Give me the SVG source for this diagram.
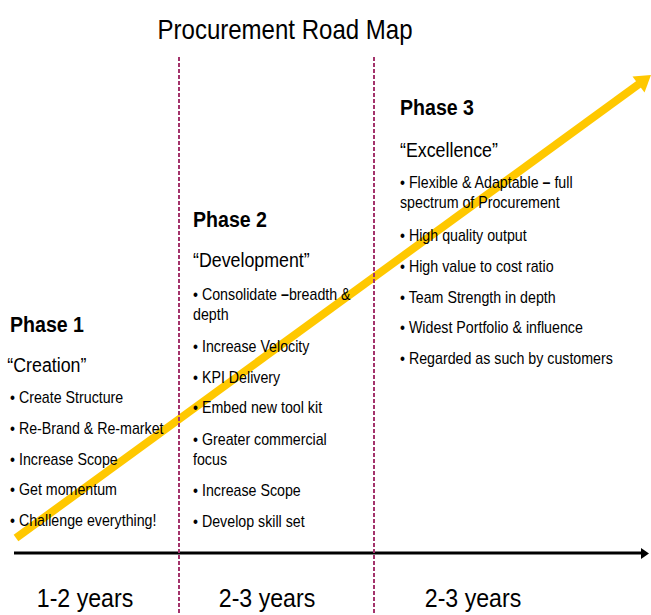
<svg xmlns="http://www.w3.org/2000/svg" width="651" height="615" viewBox="0 0 651 615">
  <style>
    text { font-family: "Liberation Sans", Arial, sans-serif; fill: #000; }
    .title { font-size: 27px; }
    .phase { font-size: 22px; font-weight: bold; }
    .quote { font-size: 20px; }
    .item { font-size: 16px; }
    .dash { font-weight: bold; }
    .years { font-size: 26px; }
    .divider { stroke: #A3336B; stroke-width: 2; stroke-dasharray: 4 2; fill: none; }
    .axis { stroke: #000; stroke-width: 3; fill: none; }
    .growth { stroke: #FFC800; stroke-width: 8; fill: none; }
  </style>

  <!-- Title -->
  <g id="title" transform="translate(285,39) scale(0.89,1)">
    <text class="title" x="0" y="0" text-anchor="middle">Procurement Road Map</text>
  </g>

  <!-- Connectors: time axis, growth arrow, phase dividers -->
  <g id="connectors">
    <line class="axis" x1="14" y1="553" x2="642" y2="553"/>
    <polygon points="641,548 649,553.5 641,559" fill="#000"/>
    <line class="growth" x1="16" y1="538" x2="639" y2="84"/>
    <polygon points="632.5,76.5 651,75 644.5,92.5" fill="#FFC800"/>
    <line class="divider" x1="179" y1="57" x2="179" y2="615"/>
    <line class="divider" x1="374" y1="57" x2="374" y2="615"/>
  </g>

  <!-- Phase 1 -->
  <g id="phase1" transform="translate(10,0) scale(0.89,1)">
    <text class="phase" x="0" y="332">Phase 1</text>
    <text class="quote" x="-3" y="372">“Creation”</text>
    <text class="item" x="0" y="403">• Create Structure</text>
    <text class="item" x="0" y="434">• Re-Brand &amp; Re-market</text>
    <text class="item" x="0" y="465">• Increase Scope</text>
    <text class="item" x="0" y="495">• Get momentum</text>
    <text class="item" x="0" y="526">• Challenge everything!</text>
  </g>

  <!-- Phase 2 -->
  <g id="phase2" transform="translate(193,0) scale(0.89,1)">
    <text class="phase" x="0" y="227">Phase 2</text>
    <text class="quote" x="0" y="267">“Development”</text>
    <text class="item" x="0" y="300">• Consolidate <tspan class="dash">–</tspan>breadth &amp;</text>
    <text class="item" x="0" y="320">depth</text>
    <text class="item" x="0" y="352">• Increase Velocity</text>
    <text class="item" x="0" y="383">• KPI Delivery</text>
    <text class="item" x="0" y="413">• Embed new tool kit</text>
    <text class="item" x="0" y="445">• Greater commercial</text>
    <text class="item" x="0" y="465">focus</text>
    <text class="item" x="0" y="496">• Increase Scope</text>
    <text class="item" x="0" y="527">• Develop skill set</text>
  </g>

  <!-- Phase 3 -->
  <g id="phase3" transform="translate(400,0) scale(0.89,1)">
    <text class="phase" x="0" y="115">Phase 3</text>
    <text class="quote" x="0" y="157">“Excellence”</text>
    <text class="item" x="0" y="188">• Flexible &amp; Adaptable <tspan class="dash">–</tspan> full</text>
    <text class="item" x="0" y="208">spectrum of Procurement</text>
    <text class="item" x="0" y="241">• High quality output</text>
    <text class="item" x="0" y="272">• High value to cost ratio</text>
    <text class="item" x="0" y="303">• Team Strength in depth</text>
    <text class="item" x="0" y="333">• Widest Portfolio &amp; influence</text>
    <text class="item" x="0" y="364">• Regarded as such by customers</text>
  </g>

  <!-- Duration labels -->
  <g id="durations">
    <g transform="translate(85,607) scale(0.89,1)"><text class="years" x="0" y="0" text-anchor="middle">1-2 years</text></g>
    <g transform="translate(267,607) scale(0.89,1)"><text class="years" x="0" y="0" text-anchor="middle">2-3 years</text></g>
    <g transform="translate(473,607) scale(0.89,1)"><text class="years" x="0" y="0" text-anchor="middle">2-3 years</text></g>
  </g>
</svg>
